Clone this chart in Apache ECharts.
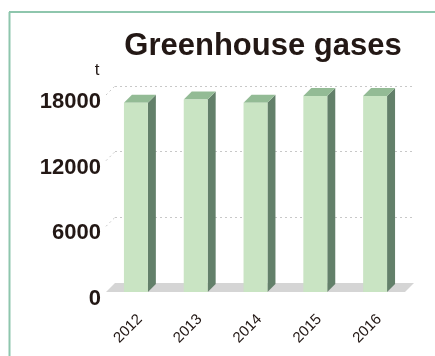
<!DOCTYPE html>
<html>
<head>
<meta charset="utf-8">
<script src="https://cdn.jsdelivr.net/npm/echarts@6/dist/echarts.min.js"></script>
<style>html,body{margin:0;padding:0;background:#fff}#c{width:435px;height:356px}</style>
</head>
<body>
<div id="c"></div>
<script>
const categories = ['2012', '2013', '2014', '2015', '2016'];
const emissions = [17300, 17600, 17300, 17900, 17900];
const yTicks = [0, 6000, 12000, 18000];
const unitLabel = 't';
const titleText = 'Greenhouse gases';

const chart = echarts.init(document.getElementById('c'), null, {renderer: 'canvas'});
const DEPTH_GRID = 9;
const DEPTH_BAR = 8;
const ink = '#231815';
const sans = "'Liberation Sans', Arial, sans-serif";

const barData = categories.map((c, i) => [c, emissions[i]]);

chart.setOption({
  animation: false,
  title: {
    text: titleText,
    left: 258,
    top: 26,
    textAlign: 'center',
    textStyle: {fontFamily: sans, fontWeight: 'bold', fontSize: 31, color: ink}
  },
  graphic: [
    {type: 'line', shape: {x1: 9.5, y1: 12, x2: 9.5, y2: 356}, style: {stroke: '#8ec6ad', lineWidth: 2}},
    {type: 'line', shape: {x1: 9, y1: 12, x2: 435, y2: 12}, style: {stroke: '#8ec6ad', lineWidth: 2}}
  ],
  grid: [
    {left: 106, right: 30, top: 95, bottom: 64},
    {left: 106 + DEPTH_GRID, right: 30 - DEPTH_GRID, top: 95 - DEPTH_GRID, bottom: 64 + DEPTH_GRID},
    {left: 110, right: 26, top: 95, bottom: 64}
  ],
  xAxis: [
    {type: 'category', gridIndex: 0, data: categories, show: false},
    {type: 'category', gridIndex: 1, data: categories, show: false},
    {
      type: 'category', gridIndex: 2, data: categories,
      axisLine: {show: false}, axisTick: {show: false},
      axisLabel: {rotate: 45, margin: 25, fontSize: 15, color: ink, fontFamily: sans}
    }
  ],
  yAxis: [
    {
      type: 'value', gridIndex: 0, min: 0, max: 18000, interval: 6000,
      name: unitLabel, nameLocation: 'end', nameGap: 16,
      nameTextStyle: {fontSize: 17, color: ink, fontFamily: sans, align: 'center', padding: [0, 18, 0, 0]},
      axisLine: {show: false}, axisTick: {show: false}, splitLine: {show: false},
      axisLabel: {
        margin: 5, fontSize: 22, fontWeight: 'bold', color: ink, fontFamily: sans,
        verticalAlign: 'top', lineHeight: 14,
        formatter: function (v) { return String(v); }
      }
    },
    {
      type: 'value', gridIndex: 1, min: 0, max: 18000, interval: 6000,
      axisLine: {show: false}, axisTick: {show: false}, axisLabel: {show: false},
      splitLine: {show: true, lineStyle: {color: '#c8c8c8', type: [2, 3], width: 1}}
    },
    {type: 'value', gridIndex: 2, min: 0, max: 18000, interval: 6000, show: false, splitLine: {show: false}}
  ],
  series: [
    {
      type: 'custom', xAxisIndex: 0, yAxisIndex: 0, z: 1, silent: true,
      data: [[categories[0], 0]],
      renderItem: function (params, api) {
        const cs = params.coordSys;
        const d = DEPTH_GRID;
        const yb = cs.y + cs.height;
        const children = [{
          type: 'polygon',
          shape: {points: [[cs.x, yb], [cs.x + cs.width, yb], [cs.x + cs.width + d, yb - d], [cs.x + d, yb - d]]},
          style: {fill: '#d5d5d5'}
        }];
        yTicks.forEach(function (t) {
          if (t === 0) return;
          const y = api.coord([categories[0], t])[1];
          children.push({
            type: 'line',
            shape: {x1: cs.x, y1: y, x2: cs.x + d, y2: y - d},
            style: {stroke: '#c8c8c8', lineWidth: 1, lineDash: [2, 3]}
          });
        });
        return {type: 'group', children: children};
      }
    },
    {
      type: 'custom', xAxisIndex: 0, yAxisIndex: 0, z: 2,
      data: barData,
      encode: {x: 0, y: 1},
      renderItem: function (params, api) {
        const top = api.coord([api.value(0), api.value(1)]);
        const base = api.coord([api.value(0), 0]);
        const w = api.size([1, 0])[0] * 0.4;
        const d = DEPTH_BAR;
        const x0 = top[0] - w / 2, x1 = top[0] + w / 2;
        const yt = top[1], yb = base[1];
        return {
          type: 'group',
          children: [
            {type: 'polygon', shape: {points: [[x1, yt], [x1 + d, yt - d], [x1 + d, yb - d], [x1, yb]]}, style: {fill: '#63806a'}},
            {type: 'polygon', shape: {points: [[x0, yt], [x1, yt], [x1 + d, yt - d], [x0 + d, yt - d]]}, style: {fill: '#93bb95'}},
            {type: 'rect', shape: {x: x0, y: yt, width: w, height: yb - yt}, style: {fill: '#c9e4c3'}}
          ]
        };
      }
    }
  ]
});
</script>
</body>
</html>
